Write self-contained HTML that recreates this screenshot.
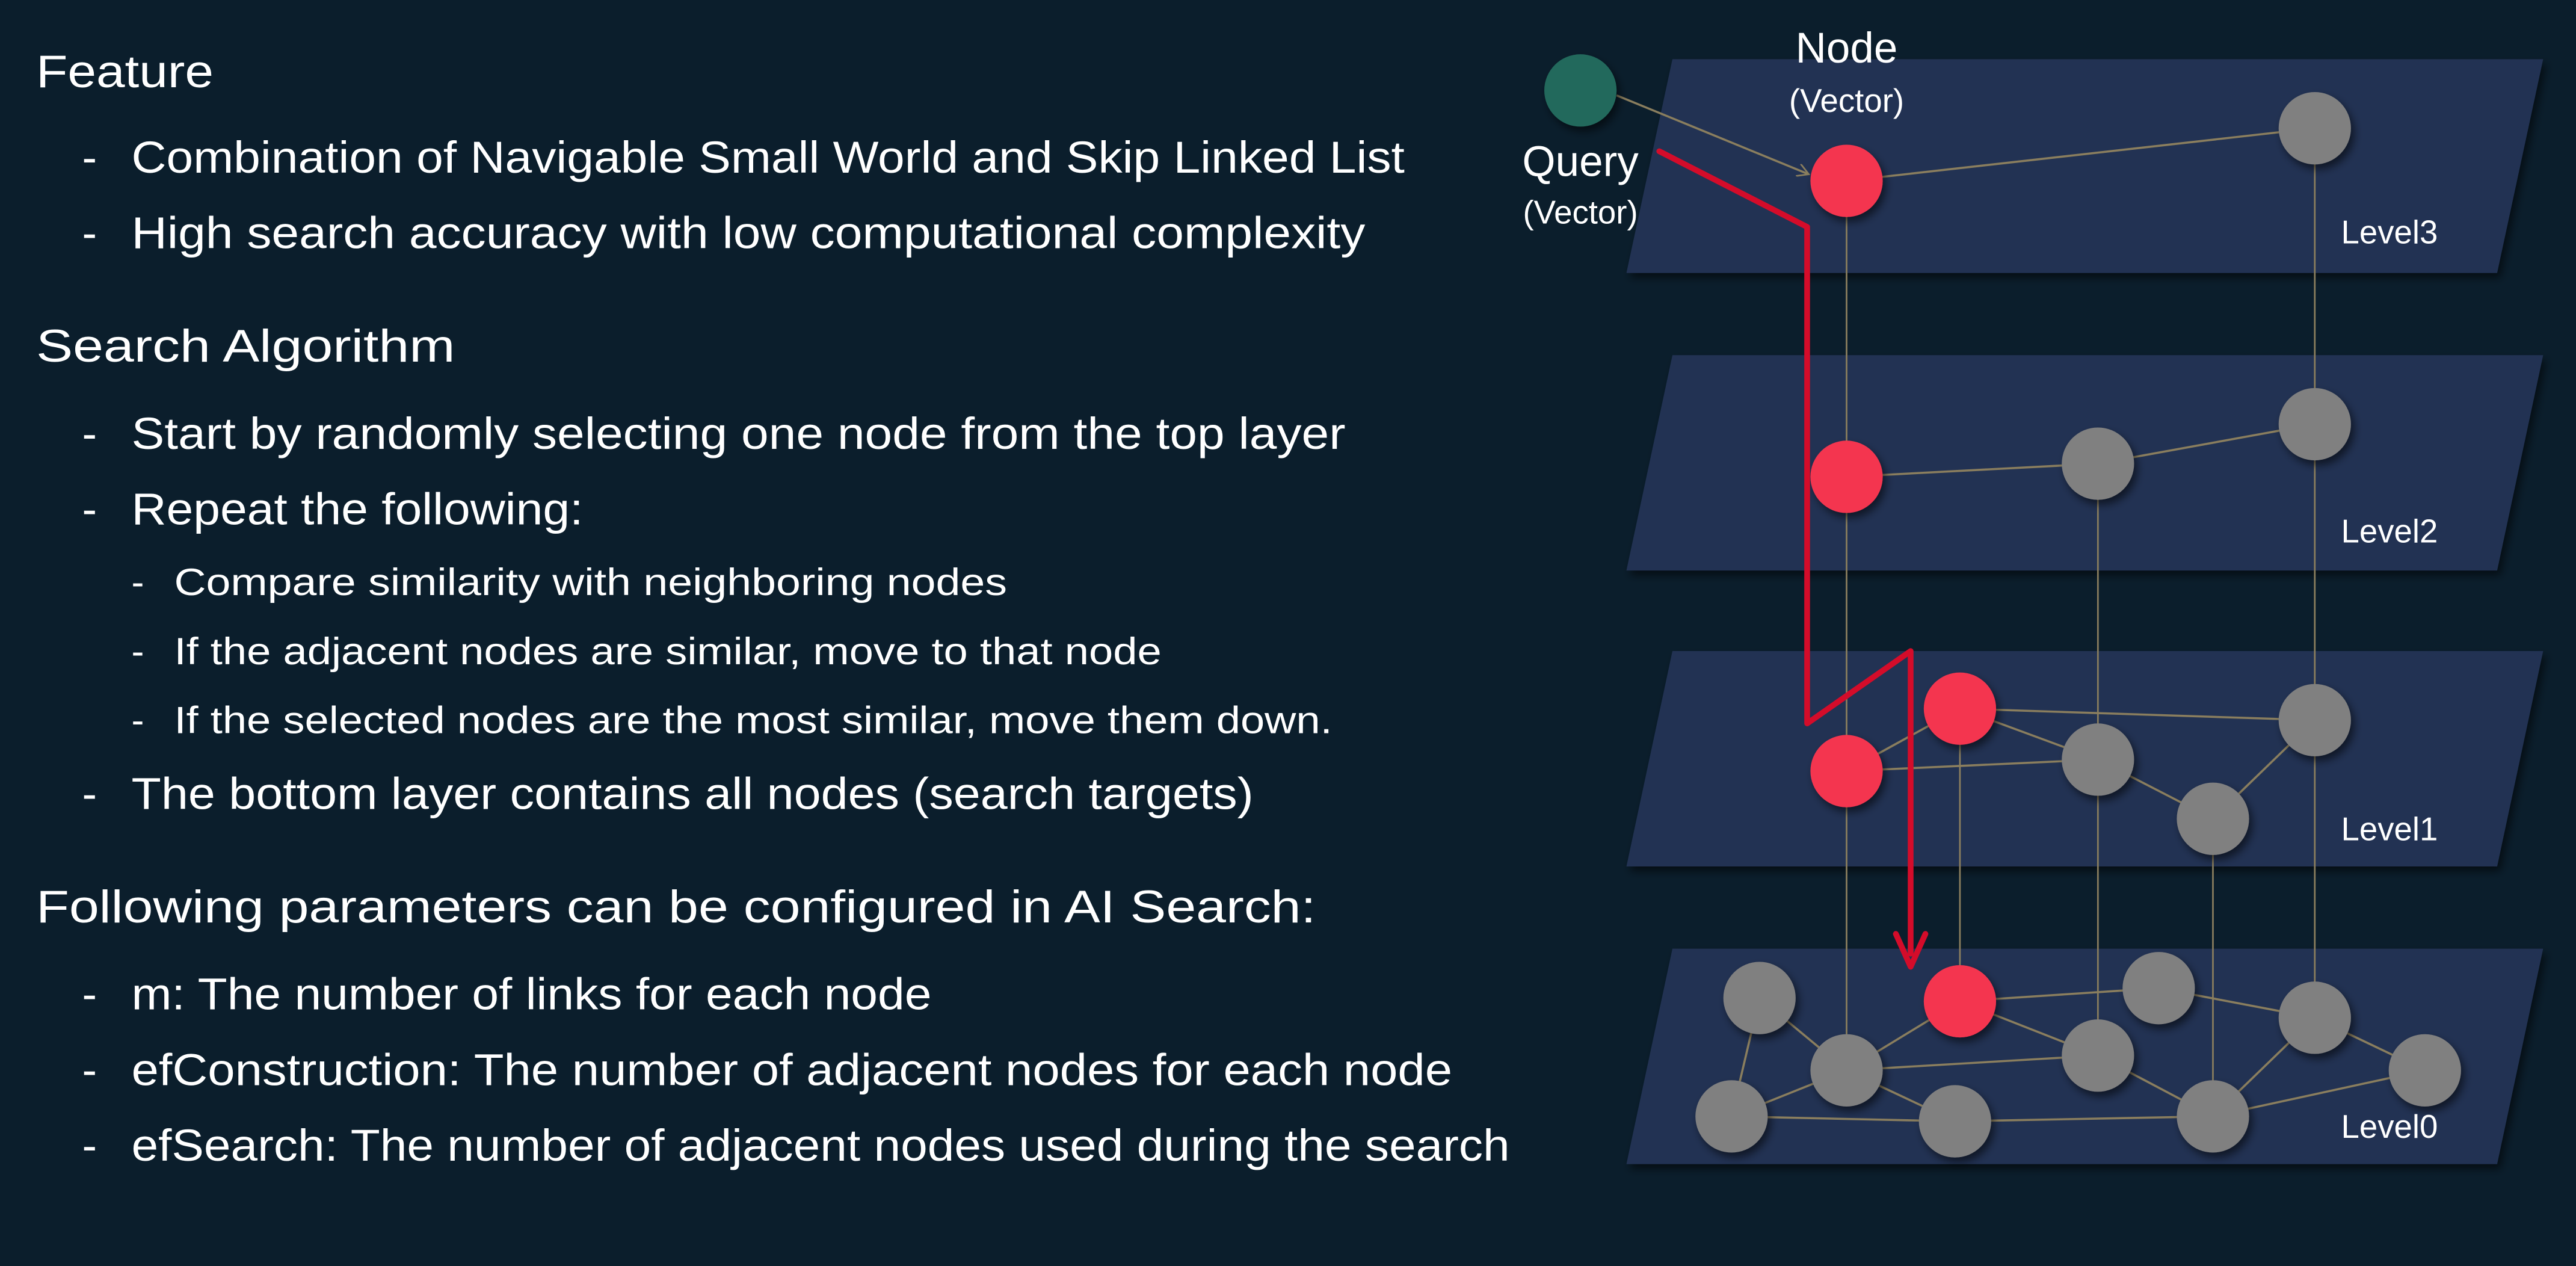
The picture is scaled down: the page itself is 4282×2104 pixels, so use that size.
<!DOCTYPE html>
<html><head><meta charset="utf-8">
<style>
html,body{margin:0;padding:0;background:#0b1e2c;}
svg{display:block;}
text{font-family:"Liberation Sans",sans-serif;fill:#fff;}
</style></head>
<body>
<svg width="4282" height="2104" viewBox="0 0 1568 770" preserveAspectRatio="none" xmlns="http://www.w3.org/2000/svg">
<defs>
<filter id="sh" x="-20%" y="-20%" width="150%" height="150%"><feDropShadow dx="2" dy="3" stdDeviation="2.5" flood-color="#000" flood-opacity="0.55"/></filter>
<marker id="ah" markerWidth="8" markerHeight="8" refX="7" refY="4" orient="auto" markerUnits="userSpaceOnUse"><path d="M0,0 L7,4 L0,8" fill="none" stroke="#8a7e5e" stroke-width="1"/></marker>
</defs>
<rect width="1568" height="770" fill="#0b1e2c"/>
<!-- left text -->
<g font-size="27">
<text x="22" y="53" font-size="28" textLength="108" lengthAdjust="spacingAndGlyphs">Feature</text>
<text x="50" y="105">-</text><text x="80" y="105" textLength="775" lengthAdjust="spacingAndGlyphs">Combination of Navigable Small World and Skip Linked List</text>
<text x="50" y="151">-</text><text x="80" y="151" textLength="751" lengthAdjust="spacingAndGlyphs">High search accuracy with low computational complexity</text>
<text x="22" y="220" font-size="28" textLength="255" lengthAdjust="spacingAndGlyphs">Search Algorithm</text>
<text x="50" y="273">-</text><text x="80" y="273" textLength="739" lengthAdjust="spacingAndGlyphs">Start by randomly selecting one node from the top layer</text>
<text x="50" y="319">-</text><text x="80" y="319" textLength="275" lengthAdjust="spacingAndGlyphs">Repeat the following:</text>
<g font-size="23">
<text x="80" y="362">-</text><text x="106" y="362" textLength="507" lengthAdjust="spacingAndGlyphs">Compare similarity with neighboring nodes</text>
<text x="80" y="404">-</text><text x="106" y="404" textLength="601" lengthAdjust="spacingAndGlyphs">If the adjacent nodes are similar, move to that node</text>
<text x="80" y="446">-</text><text x="106" y="446" textLength="705" lengthAdjust="spacingAndGlyphs">If the selected nodes are the most similar, move them down.</text>
</g>
<text x="50" y="492">-</text><text x="80" y="492" textLength="683" lengthAdjust="spacingAndGlyphs">The bottom layer contains all nodes (search targets)</text>
<text x="22" y="561" font-size="28" textLength="779" lengthAdjust="spacingAndGlyphs">Following parameters can be configured in AI Search:</text>
<text x="50" y="614">-</text><text x="80" y="614" textLength="487" lengthAdjust="spacingAndGlyphs">m: The number of links for each node</text>
<text x="50" y="660">-</text><text x="80" y="660" textLength="804" lengthAdjust="spacingAndGlyphs">efConstruction: The number of adjacent nodes for each node</text>
<text x="50" y="706">-</text><text x="80" y="706" textLength="839" lengthAdjust="spacingAndGlyphs">efSearch: The number of adjacent nodes used during the search</text>
</g>
<!-- planes -->
<g fill="#203352" filter="url(#sh)">
<polygon points="1018,36 1548,36 1520,166 990,166"/>
<polygon points="1018,216 1548,216 1520,347 990,347"/>
<polygon points="1018,396 1548,396 1520,527 990,527"/>
<polygon points="1018,577 1548,577 1520,708 990,708"/>
</g>
<!-- vertical lines -->
<g stroke="#8a7e5e" stroke-width="1">
<line x1="1124" y1="110" x2="1124" y2="651"/>
<line x1="1409" y1="78" x2="1409" y2="619"/>
<line x1="1277" y1="282" x2="1277" y2="642"/>
<line x1="1193" y1="431" x2="1193" y2="609"/>
<line x1="1347" y1="498" x2="1347" y2="679"/>
</g>
<!-- edges -->
<g stroke="#8a7e5e" stroke-width="1.3">
<line x1="984" y1="58" x2="1101" y2="106" marker-end="url(#ah)"/>
<line x1="1124" y1="110" x2="1409" y2="78"/>
<line x1="1124" y1="290" x2="1277" y2="282"/>
<line x1="1277" y1="282" x2="1409" y2="258"/>
<line x1="1124" y1="469" x2="1193" y2="431"/>
<line x1="1124" y1="469" x2="1277" y2="462"/>
<line x1="1193" y1="431" x2="1277" y2="462"/>
<line x1="1193" y1="431" x2="1409" y2="438"/>
<line x1="1277" y1="462" x2="1347" y2="498"/>
<line x1="1347" y1="498" x2="1409" y2="438"/>
<line x1="1071" y1="607" x2="1124" y2="651"/>
<line x1="1071" y1="607" x2="1054" y2="679"/>
<line x1="1054" y1="679" x2="1124" y2="651"/>
<line x1="1124" y1="651" x2="1193" y2="609"/>
<line x1="1124" y1="651" x2="1277" y2="642"/>
<line x1="1124" y1="651" x2="1190" y2="682"/>
<line x1="1054" y1="679" x2="1190" y2="682"/>
<line x1="1190" y1="682" x2="1347" y2="679"/>
<line x1="1193" y1="609" x2="1314" y2="601"/>
<line x1="1193" y1="609" x2="1277" y2="642"/>
<line x1="1277" y1="642" x2="1347" y2="679"/>
<line x1="1314" y1="601" x2="1409" y2="619"/>
<line x1="1409" y1="619" x2="1347" y2="679"/>
<line x1="1409" y1="619" x2="1476" y2="651"/>
<line x1="1476" y1="651" x2="1347" y2="679"/>
</g>
<!-- nodes -->
<g filter="url(#sh)">
<circle cx="962" cy="55" r="22" fill="#21695c"/>
<circle cx="1124" cy="110" r="22" fill="#f43650"/>
<circle cx="1409" cy="78" r="22" fill="#808080"/>
<circle cx="1124" cy="290" r="22" fill="#f43650"/>
<circle cx="1277" cy="282" r="22" fill="#808080"/>
<circle cx="1409" cy="258" r="22" fill="#808080"/>
<circle cx="1124" cy="469" r="22" fill="#f43650"/>
<circle cx="1193" cy="431" r="22" fill="#f43650"/>
<circle cx="1277" cy="462" r="22" fill="#808080"/>
<circle cx="1347" cy="498" r="22" fill="#808080"/>
<circle cx="1409" cy="438" r="22" fill="#808080"/>
<circle cx="1071" cy="607" r="22" fill="#808080"/>
<circle cx="1124" cy="651" r="22" fill="#808080"/>
<circle cx="1193" cy="609" r="22" fill="#f43650"/>
<circle cx="1277" cy="642" r="22" fill="#808080"/>
<circle cx="1314" cy="601" r="22" fill="#808080"/>
<circle cx="1409" cy="619" r="22" fill="#808080"/>
<circle cx="1476" cy="651" r="22" fill="#808080"/>
<circle cx="1054" cy="679" r="22" fill="#808080"/>
<circle cx="1190" cy="682" r="22" fill="#808080"/>
<circle cx="1347" cy="679" r="22" fill="#808080"/>
</g>
<!-- red path -->
<polyline points="1010,92 1100,138 1100,440 1163,396 1163,580" fill="none" stroke="#d40c2a" stroke-width="3.5" stroke-linejoin="round" stroke-linecap="round"/>
<polyline points="1154,568 1163,588 1172,568" fill="none" stroke="#d40c2a" stroke-width="3.5" stroke-linejoin="round" stroke-linecap="round"/>
<!-- labels -->
<text x="1124" y="38" font-size="26" text-anchor="middle">Node</text>
<text x="1124" y="68" font-size="20" text-anchor="middle">(Vector)</text>
<text x="962" y="107" font-size="26" text-anchor="middle">Query</text>
<text x="962" y="136" font-size="20" text-anchor="middle">(Vector)</text>
<g font-size="20">
<text x="1425" y="148">Level3</text>
<text x="1425" y="330">Level2</text>
<text x="1425" y="511">Level1</text>
<text x="1425" y="692">Level0</text>
</g>
</svg>
</body></html>
